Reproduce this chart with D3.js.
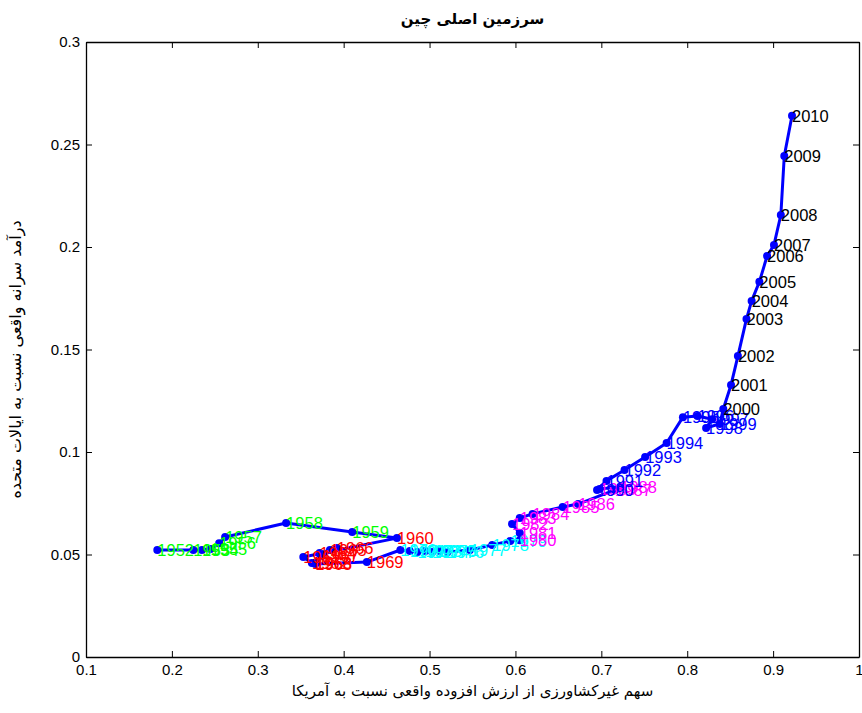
<!DOCTYPE html>
<html>
<head>
<meta charset="utf-8">
<script src="https://cdn.jsdelivr.net/npm/d3@7"></script>
<style>
  html, body { margin: 0; padding: 0; background: #fff; }
  svg { display: block; }
</style>
</head>
<body>
<svg id="chart" width="862" height="713"></svg>
<script>
// ---- data ----
const years = [
  1952, 1953, 1954, 1955, 1956, 1957, 1958, 1959,
  1960, 1961, 1962, 1963, 1964, 1965, 1966, 1967, 1968, 1969,
  1970, 1971, 1972, 1973, 1974, 1975, 1976, 1977, 1978, 1979,
  1980, 1981, 1982, 1983, 1984, 1985, 1986, 1987, 1988, 1989,
  1990, 1991, 1992, 1993, 1994, 1995, 1996, 1997, 1998, 1999,
  2000, 2001, 2002, 2003, 2004, 2005, 2006, 2007, 2008, 2009, 2010
];
// non-agricultural share of real value added relative to the US
const nonAgShare = [
  0.183, 0.225, 0.235, 0.245, 0.255, 0.262, 0.333, 0.410,
  0.462, 0.353, 0.363, 0.367, 0.372, 0.384, 0.392, 0.375, 0.367, 0.427,
  0.466, 0.477, 0.486, 0.495, 0.503, 0.512, 0.521, 0.547, 0.573, 0.594,
  0.605, 0.605, 0.596, 0.605, 0.620, 0.655, 0.673, 0.716, 0.722, 0.698,
  0.695, 0.706, 0.727, 0.751, 0.776, 0.795, 0.812, 0.829, 0.822, 0.838,
  0.842, 0.851, 0.859, 0.869, 0.875, 0.884, 0.893, 0.901, 0.909, 0.913, 0.922
];
// real per-capita income relative to the US
const incomeRatio = [
  0.0522, 0.0522, 0.0522, 0.0527, 0.0555, 0.0585, 0.0654, 0.0610,
  0.0580, 0.0488, 0.0459, 0.0459, 0.0507, 0.0522, 0.0532, 0.0493, 0.0454, 0.0463,
  0.0522, 0.0517, 0.0512, 0.0517, 0.0512, 0.0517, 0.0512, 0.0522, 0.0546, 0.0566,
  0.0570, 0.0605, 0.0649, 0.0678, 0.0698, 0.0732, 0.0746, 0.0815, 0.0830, 0.0820,
  0.0815, 0.0859, 0.0912, 0.0976, 0.1044, 0.1170, 0.1176, 0.1160, 0.1117, 0.1137,
  0.1210, 0.1327, 0.1468, 0.1649, 0.1737, 0.1830, 0.1956, 0.2010, 0.2156, 0.2444, 0.2640
];
const decadeBreaks = [1960, 1970, 1980, 1990, 2000];
const xTicks = [0.1, 0.2, 0.3, 0.4, 0.5, 0.6, 0.7, 0.8, 0.9, 1];
const yTicks = [0, 0.05, 0.1, 0.15, 0.2, 0.25, 0.3];
const titleText = "سرزمین اصلی چین";
const xLabelText = "سهم غیرکشاورزی از ارزش افزوده واقعی نسبت به آمریکا";
const yLabelText = "درآمد سرانه واقعی نسبت به ایالات متحده";

// ---- layout / style ----
const decadeColors = ["#00ff00", "#ff0000", "#00ffff", "#ff00ff", "#0000ff", "#000000"];
const plotL = 86, plotR = 859, plotT = 42, plotB = 657;

const svg = d3.select("#chart");
const x = d3.scaleLinear().domain([0.1, 1]).range([plotL, plotR]);
const y = d3.scaleLinear().domain([0, 0.3]).range([plotB, plotT]);
const color = d3.scaleThreshold().domain(decadeBreaks).range(decadeColors);

const data = years.map((yr, i) => ({ year: yr, x: nonAgShare[i], y: incomeRatio[i] }));

const tickFont = "'Liberation Sans', Arial, sans-serif";

// axes (ticks pointing inward)
const gB = svg.append("g").attr("transform", `translate(0,${plotB})`)
  .call(d3.axisBottom(x).tickValues(xTicks).tickFormat(d3.format("~g")).tickSizeInner(-6).tickSizeOuter(0).tickPadding(7));
const gT = svg.append("g").attr("transform", `translate(0,${plotT})`)
  .call(d3.axisTop(x).tickValues(xTicks).tickFormat("").tickSizeInner(-6).tickSizeOuter(0));
const gL = svg.append("g").attr("transform", `translate(${plotL},0)`)
  .call(d3.axisLeft(y).tickValues(yTicks).tickFormat(d3.format("~g")).tickSizeInner(-6).tickSizeOuter(0).tickPadding(6));
const gR = svg.append("g").attr("transform", `translate(${plotR},0)`)
  .call(d3.axisRight(y).tickValues(yTicks).tickFormat("").tickSizeInner(-6).tickSizeOuter(0));

[gB, gT, gL, gR].forEach(g => {
  g.selectAll("path.domain").attr("stroke", "#000").attr("stroke-width", 1.3);
  g.selectAll(".tick line").attr("stroke", "#000").attr("stroke-width", 1);
  g.selectAll(".tick text").attr("fill", "#000").style("font-family", tickFont).style("font-size", "15px");
});

// trajectory line
svg.append("path")
  .datum(data)
  .attr("fill", "none")
  .attr("stroke", "#0000ff")
  .attr("stroke-width", 3)
  .attr("stroke-linejoin", "round")
  .attr("d", d3.line().x(d => x(d.x)).y(d => y(d.y)));

// markers
svg.append("g").selectAll("circle")
  .data(data).join("circle")
  .attr("cx", d => x(d.x)).attr("cy", d => y(d.y))
  .attr("r", 4).attr("fill", "#0000ff");

// year labels
svg.append("g").selectAll("text")
  .data(data).join("text")
  .attr("x", d => x(d.x))
  .attr("y", d => y(d.y))
  .attr("dy", "0.36em")
  .attr("fill", d => color(d.year))
  .style("font-family", tickFont)
  .style("font-size", "16.5px")
  .text(d => d.year);

// title and axis labels
const faFont = "'DejaVu Sans', 'Noto Sans', sans-serif";
svg.append("text")
  .attr("x", (plotL + plotR) / 2).attr("y", 24)
  .attr("text-anchor", "middle").attr("direction", "rtl")
  .style("font-family", faFont).style("font-size", "15px").style("font-weight", "bold")
  .text(titleText);

svg.append("text")
  .attr("x", (plotL + plotR) / 2).attr("y", 696)
  .attr("text-anchor", "middle").attr("direction", "rtl")
  .style("font-family", faFont).style("font-size", "15px")
  .text(xLabelText);

svg.append("text")
  .attr("transform", `translate(21,${(plotT + plotB) / 2 + 10}) rotate(-90)`)
  .attr("text-anchor", "middle").attr("direction", "rtl")
  .style("font-family", faFont).style("font-size", "16px")
  .text(yLabelText);
</script>
</body>
</html>
